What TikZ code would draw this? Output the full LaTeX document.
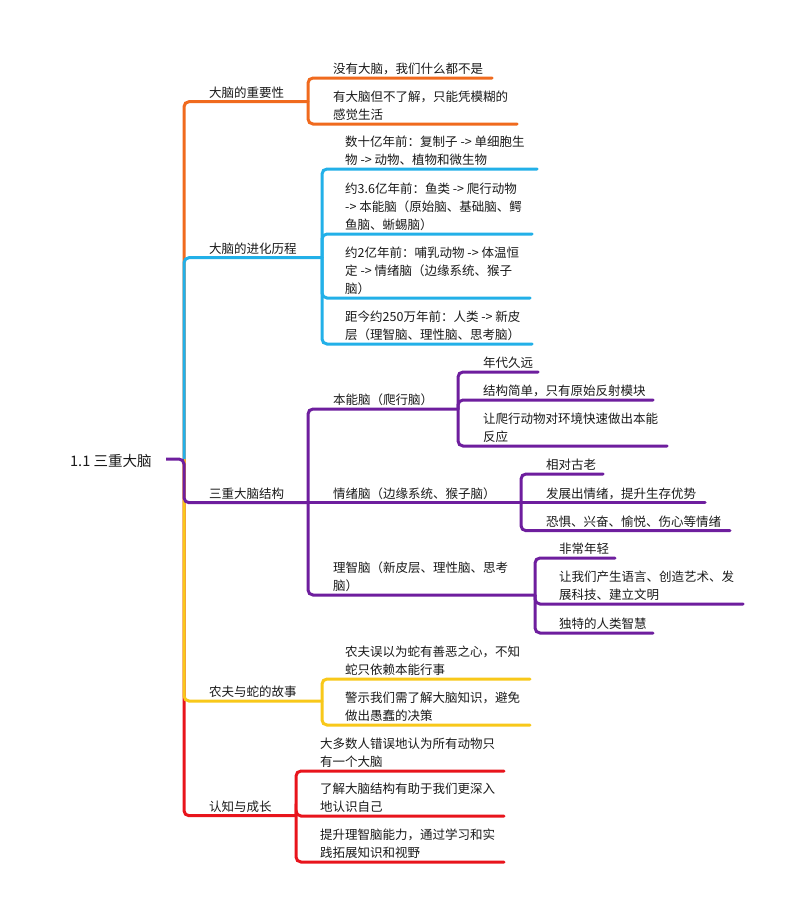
\documentclass[tikz,border=0pt]{standalone}
\usepackage{fontspec}
\setmainfont{Noto Sans CJK SC}
\definecolor{cOrange}{HTML}{F06A1E}
\definecolor{cBlue}{HTML}{22B0E8}
\definecolor{cPurple}{HTML}{6E1E9E}
\definecolor{cYellow}{HTML}{F8C81A}
\definecolor{cRed}{HTML}{E8141C}
\definecolor{cText}{HTML}{1A1A1A}
\tikzset{
  txt/.style={anchor=base west, inner sep=0pt, align=left, text=cText,
    font=\fontsize{12.5}{18}\selectfont},
  roottxt/.style={anchor=base west, inner sep=0pt, text=cText,
    font=\fontsize{14.5}{18}\selectfont},
  ln/.style={line width=3pt, rounded corners=5pt, line cap=round},
  mainln/.style={line width=3pt, rounded corners=5pt, line cap=butt},
}
\begin{document}
\begin{tikzpicture}[x=1pt,y=-1pt]
\useasboundingbox (0,0) rectangle (800,921);
\fill[white] (0,0) rectangle (800,921);

% ---------- text nodes (base = baseline of last line) ----------
\node[roottxt] (root) at (70,466.5) {1.1 三重大脑};

% orange
\node[txt] (L1) at (209,97.2) {大脑的重要性};
\node[txt] (o1) at (333,73.5) {没有大脑，我们什么都不是};
\node[txt] (o2) at (333,119.5) {有大脑但不了解，只能凭模糊的\\感觉生活};
% blue
\node[txt] (L2) at (209,253.2) {大脑的进化历程};
\node[txt] (b1) at (345,164.5) {数十亿年前：复制子 -> 单细胞生\\物 -> 动物、植物和微生物};
\node[txt] (b2) at (345,229.5) {约3.6亿年前：鱼类 -> 爬行动物\\-> 本能脑（原始脑、基础脑、鳄\\鱼脑、蜥蜴脑）};
\node[txt] (b3) at (345,293.5) {约2亿年前：哺乳动物 -> 体温恒\\定 -> 情绪脑（边缘系统、猴子\\脑）};
\node[txt] (b4) at (345,339.5) {距今约250万年前：人类 -> 新皮\\层（理智脑、理性脑、思考脑）};
% purple
\node[txt] (L3) at (209,498.2) {三重大脑结构};
\node[txt] (p1) at (333,404.5) {本能脑（爬行脑）};
\node[txt] (p11) at (483,367.5) {年代久远};
\node[txt] (p12) at (483,395.5) {结构简单，只有原始反射模块};
\node[txt] (p13) at (483,441.5) {让爬行动物对环境快速做出本能\\反应};
\node[txt] (p2) at (333,498.2) {情绪脑（边缘系统、猴子脑）};
\node[txt] (p21) at (546,469.5) {相对古老};
\node[txt] (p22) at (546,498) {发展出情绪，提升生存优势};
\node[txt] (p23) at (546,526.2) {恐惧、兴奋、愉悦、伤心等情绪};
\node[txt] (p3) at (333,590.5) {理智脑（新皮层、理性脑、思考\\脑）};
\node[txt] (p31) at (559,553.5) {非常年轻};
\node[txt] (p32) at (559,599.5) {让我们产生语言、创造艺术、发\\展科技、建立文明};
\node[txt] (p33) at (559,628.5) {独特的人类智慧};
% yellow
\node[txt] (L4) at (209,696.5) {农夫与蛇的故事};
\node[txt] (y1) at (345,674.5) {农夫误以为蛇有善恶之心，不知\\蛇只依赖本能行事};
\node[txt] (y2) at (345,720.5) {警示我们需了解大脑知识，避免\\做出愚蠢的决策};
% red
\node[txt] (L5) at (209,811.2) {认知与成长};
\node[txt] (r1) at (320,766.5) {大多数人错误地认为所有动物只\\有一个大脑};
\node[txt] (r2) at (320,811.5) {了解大脑结构有助于我们更深入\\地认识自己};
\node[txt] (r3) at (320,857.5) {提升理智脑能力，通过学习和实\\践拓展知识和视野};

% ---------- junction coordinates ----------
\coordinate (r0) at (166,459);
\coordinate (R) at (184,459);
\coordinate (Jo) at (308,101.7);
\coordinate (Jb) at (322,257.7);
\coordinate (Jp) at (308,502.7);
\coordinate (Jy) at (322,701);
\coordinate (Jr) at (296,815.7);
% purple sub-junctions
\coordinate (Jp1) at (458,409);
\coordinate (Jp2) at (521,502.7);
\coordinate (Jp3) at (535,595);
% underline ends
\coordinate (o1e) at (492,78);
\coordinate (o2e) at (517,124);
\coordinate (b1e) at (537,169);
\coordinate (b2e) at (532,234);
\coordinate (b3e) at (530,298);
\coordinate (b4e) at (532,344);
\coordinate (p11e) at (538,372);
\coordinate (p12e) at (653,400);
\coordinate (p13e) at (667,446);
\coordinate (p21e) at (603,474);
\coordinate (p22e) at (705,502.7);
\coordinate (p23e) at (730,530.7);
\coordinate (p31e) at (615,558);
\coordinate (p32e) at (743,604);
\coordinate (p33e) at (653,633);
\coordinate (y1e) at (530,679);
\coordinate (y2e) at (530,725);
\coordinate (r1e) at (504,771);
\coordinate (r2e) at (504,816);
\coordinate (r3e) at (504,862);

% ---------- main branches ----------
\draw[mainln, cOrange] (R) |- (Jo);
\draw[mainln, cRed] (R) |- (Jr);
\draw[mainln, cYellow] (R) |- (Jy);
\draw[mainln, cBlue] (R) |- (Jb);
\draw[mainln, cPurple] (r0) -- (R) |- (Jp);

% ---------- sub branches ----------
\draw[ln, cOrange] (Jo) |- (o1e);
\draw[ln, cOrange] (Jo) |- (o2e);

\draw[ln, cBlue] (Jb) |- (b1e);
\draw[ln, cBlue] (Jb) |- (b2e);
\draw[ln, cBlue] (Jb) |- (b3e);
\draw[ln, cBlue] (Jb) |- (b4e);

\draw[ln, cPurple] (Jp) |- (Jp1);
\draw[ln, cPurple] (Jp) -- (Jp2);
\draw[ln, cPurple] (Jp) |- (Jp3);
\draw[ln, cPurple] (Jp1) |- (p11e);
\draw[ln, cPurple] (Jp1) |- (p12e);
\draw[ln, cPurple] (Jp1) |- (p13e);
\draw[ln, cPurple] (Jp2) |- (p21e);
\draw[ln, cPurple] (Jp2) -- (p22e);
\draw[ln, cPurple] (Jp2) |- (p23e);
\draw[ln, cPurple] (Jp3) |- (p31e);
\draw[ln, cPurple] (Jp3) |- (p32e);
\draw[ln, cPurple] (Jp3) |- (p33e);

\draw[ln, cYellow] (Jy) |- (y1e);
\draw[ln, cYellow] (Jy) |- (y2e);

\draw[ln, cRed] (Jr) |- (r1e);
\draw[ln, cRed] (Jr) |- (r2e);
\draw[ln, cRed] (Jr) |- (r3e);
\end{tikzpicture}
\end{document}
